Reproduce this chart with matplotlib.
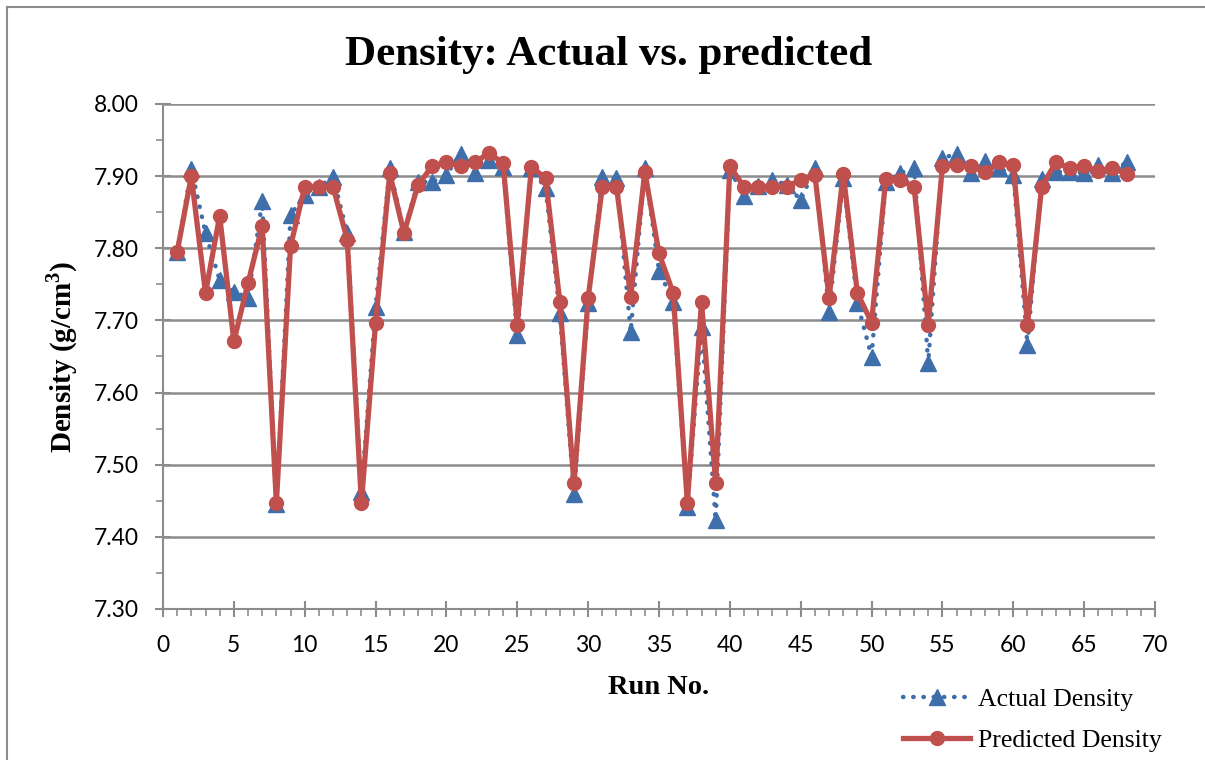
import numpy as np
import matplotlib.pyplot as plt
from matplotlib.lines import Line2D
from matplotlib.ticker import MultipleLocator, FormatStrFormatter

run_no = list(range(1, 69))

actual = [7.795, 7.910, 7.821, 7.756, 7.740, 7.731, 7.865, 7.445, 7.846, 7.874,
          7.885, 7.899, 7.821, 7.462, 7.719, 7.911, 7.823, 7.892, 7.892, 7.902,
          7.931, 7.904, 7.922, 7.913, 7.680, 7.911, 7.883, 7.710, 7.460, 7.724,
          7.899, 7.897, 7.684, 7.911, 7.769, 7.725, 7.442, 7.691, 7.423, 7.909,
          7.872, 7.886, 7.895, 7.888, 7.867, 7.911, 7.712, 7.897, 7.724, 7.650,
          7.892, 7.904, 7.911, 7.641, 7.925, 7.931, 7.904, 7.921, 7.911, 7.902,
          7.666, 7.896, 7.906, 7.906, 7.904, 7.916, 7.904, 7.920]

predicted = [7.795, 7.900, 7.738, 7.845, 7.671, 7.752, 7.831, 7.447, 7.803, 7.885,
             7.885, 7.885, 7.812, 7.447, 7.696, 7.904, 7.821, 7.888, 7.914, 7.919,
             7.914, 7.919, 7.932, 7.918, 7.694, 7.913, 7.897, 7.726, 7.474, 7.731,
             7.885, 7.885, 7.733, 7.906, 7.793, 7.738, 7.447, 7.726, 7.474, 7.914,
             7.885, 7.885, 7.885, 7.885, 7.895, 7.902, 7.731, 7.903, 7.738, 7.697,
             7.896, 7.895, 7.885, 7.694, 7.914, 7.916, 7.914, 7.906, 7.919, 7.916,
             7.694, 7.885, 7.919, 7.911, 7.914, 7.907, 7.911, 7.903]

blue = '#3f6fab'
red = '#c0504d'
grey = '#8c8c8c'

plt.rcParams['mathtext.fontset'] = 'custom'
plt.rcParams['mathtext.rm'] = 'Liberation Serif:bold'

fig = plt.figure(figsize=(12.05, 7.6), dpi=100)
ax = fig.add_axes([163/1205, 1-609/760, (1155-163)/1205, (609-104)/760])

ax.plot(run_no, actual, color=blue, ls=(0, (0.1, 2.2)), lw=3.2,
        dash_capstyle='round', marker='^', ms=11, mec=blue, mfc=blue, zorder=3)
ax.plot(run_no, predicted, color=red, ls='-', lw=3.8,
        marker='o', ms=10, mec=red, mfc=red, zorder=4)

ax.set_xlim(0, 70)
ax.set_ylim(7.30, 8.00)
ax.xaxis.set_major_locator(MultipleLocator(5))
ax.xaxis.set_minor_locator(MultipleLocator(1))
ax.yaxis.set_major_locator(MultipleLocator(0.1))
ax.yaxis.set_minor_locator(MultipleLocator(0.05))
ax.yaxis.set_major_formatter(FormatStrFormatter('%.2f'))

ax.grid(axis='y', which='major', color=grey, lw=1.8, zorder=1)
ax.set_axisbelow(True)
for s in ['top', 'right']:
    ax.spines[s].set_visible(False)
for s in ['left', 'bottom']:
    ax.spines[s].set_color(grey)
    ax.spines[s].set_linewidth(1.5)

ax.tick_params(axis='both', which='major', direction='inout', length=11,
               width=1.5, color=grey, labelsize=16.5)
ax.tick_params(axis='y', which='major', pad=12)
ax.tick_params(axis='x', which='major', pad=13)
ax.tick_params(axis='both', which='minor', direction='out', length=5,
               width=1.2, color=grey)
for lab in ax.get_xticklabels() + ax.get_yticklabels():
    lab.set_family('Lato')

fig.text(0.505, 1-55/760, 'Density: Actual vs. predicted', family='Liberation Serif',
         fontweight='bold', fontsize=31, ha='center', va='center')
ax.set_xlabel('Run No.', family='Liberation Serif', fontweight='bold',
              fontsize=20.5, labelpad=14)
ax.set_ylabel('Density (g/cm$^3$)', family='Liberation Serif',
              fontweight='bold', fontsize=21, labelpad=10)

handles = [Line2D([], [], color=blue, ls=(0, (0.1, 2.2)), lw=3.2,
                  dash_capstyle='round', marker='^', ms=11),
           Line2D([], [], color=red, ls='-', lw=3.8, marker='o', ms=10)]
fig.legend(handles, ['Actual Density', 'Predicted Density'],
           loc='lower right', bbox_to_anchor=(0.983, -0.02), frameon=False,
           prop={'family': 'Liberation Serif', 'size': 18.5},
           handlelength=2.6, handletextpad=0.3, labelspacing=0.7)

# outer chart border
fig.add_artist(Line2D([7/1205, 1], [1-7/760, 1-7/760], color=grey, lw=1.5))
fig.add_artist(Line2D([7/1205, 7/1205], [0, 1-7/760], color=grey, lw=1.5))

fig.savefig('out.png', dpi=100)
